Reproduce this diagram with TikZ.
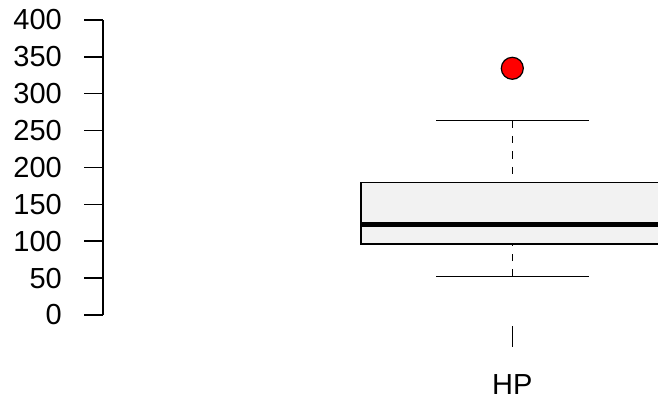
\documentclass[tikz,border=0pt]{standalone}
\usepackage{fontspec}
\setmainfont{Liberation Sans}
\begin{document}
\begin{tikzpicture}[x=1pt,y=1pt,
  axisline/.style={line width=1.5pt,line cap=butt},
  ticklabel/.style={anchor=east,inner sep=0pt,font=\fontsize{29}{29}\selectfont},
  boxline/.style={line width=1.4pt},
  whisk/.style={line width=1.4pt,dash pattern=on 7.5pt off 8pt},
]
\useasboundingbox (0,0) rectangle (658,399);
\clip (0,0) rectangle (658,399);
% y axis
\coordinate (ax0) at (103,84);
\coordinate (ax1) at (103,379);
\draw[axisline] (ax0) -- (ax1);
\foreach \v [count=\i from 0] in {0,50,...,400}{
  \pgfmathsetmacro{\yy}{84+0.7375*\v}
  \coordinate (t\i) at (84,\yy);
  \coordinate (u\i) at (103,\yy);
  \draw[axisline] (t\i) -- (u\i);
  \node[ticklabel] (l\i) at (62,\yy) {\v};
}
% box
\coordinate (bl) at (361,155);
\coordinate (tr) at (664,216.7);
\draw[boxline,fill={rgb,255:red,242;green,242;blue,242}] (bl) rectangle (tr);
\coordinate (m0) at (361,174.7);
\coordinate (m1) at (664,174.7);
\draw[line width=5.5pt] (m0) -- (m1);
% whiskers
\coordinate (wt) at (512.3,278.7);
\coordinate (qt) at (512.3,216.7);
\coordinate (wb) at (512.3,122.3);
\coordinate (qb) at (512.3,155);
\draw[whisk] (wt) -- (qt);
\draw[whisk] (wb) -- (qb);
\coordinate (ct0) at (436,278.7);
\coordinate (ct1) at (588.5,278.7);
\coordinate (cb0) at (436,122.3);
\coordinate (cb1) at (588.5,122.3);
\draw[boxline] (ct0) -- (ct1);
\draw[boxline] (cb0) -- (cb1);
% outlier
\node[circle,draw=black,line width=1.2pt,fill=red,minimum size=22pt,inner sep=0pt] (out) at (512.3,330.7) {};
% x tick and label
\coordinate (xt0) at (512.3,73);
\coordinate (xt1) at (512.3,52);
\draw[axisline] (xt0) -- (xt1);
\node[anchor=base,inner sep=0pt,font=\fontsize{29}{29}\selectfont] (hp) at (512.3,5) {HP};
\end{tikzpicture}
\end{document}
